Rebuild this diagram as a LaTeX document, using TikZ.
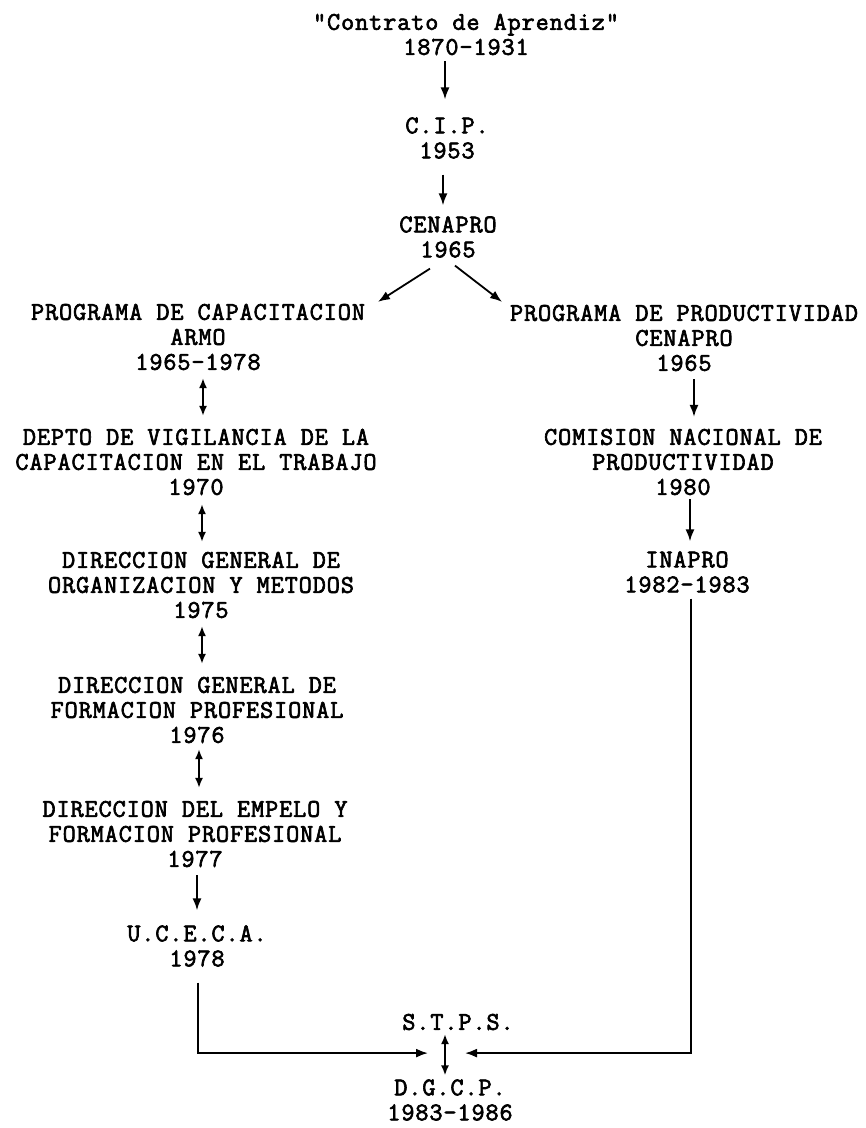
\documentclass[tikz,border=0pt]{standalone}
\usepackage{fontspec}
\newfontfamily\tw[FakeBold=2.5,LetterSpace=3.5]{Latin Modern Mono}
\usetikzlibrary{arrows.meta,calc}
\begin{document}
\begin{tikzpicture}[x=1pt,y=-1pt,
  lbl/.style={align=center,inner sep=0pt,outer sep=0pt,font=\tw\fontsize{25.5}{25}\selectfont},
  conn/.style={line width=1.8pt,-{Latex[length=12pt,width=9pt]}},
  twoway/.style={line width=1.8pt,{Latex[length=10pt,width=8pt]}-{Latex[length=10pt,width=8pt]}}]
\fill[white] (0,0) rectangle (866,1128);
\useasboundingbox (0,0) rectangle (866,1128);

\node[lbl] (title) at (466,34.5) {"Contrato de Aprendiz"\\1870-1931};
\node[lbl] (cip) at (447,138) {C.I.P.\\1953};
\node[lbl] (cenapro) at (448,237) {CENAPRO\\1965};
\node[lbl] (progcap) at (198,337) {PROGRAMA DE CAPACITACION\\ARMO\\1965-1978};
\node[lbl] (progprod) at (684,338) {PROGRAMA DE PRODUCTIVIDAD\\CENAPRO\\1965};
\node[lbl] (depto) at (196,462) {DEPTO DE VIGILANCIA DE LA\\CAPACITACION EN EL TRABAJO\\1970};
\node[lbl] (dgom) at (201,585) {DIRECCION GENERAL DE\\ORGANIZACION Y METODOS\\1975};
\node[lbl] (dgfp) at (197,710) {DIRECCION GENERAL DE\\FORMACION PROFESIONAL\\1976};
\node[lbl] (demp) at (195,834) {DIRECCION DEL EMPELO Y\\FORMACION PROFESIONAL\\1977};
\node[lbl] (uceca) at (197,946) {U.C.E.C.A.\\1978};
\node[lbl] (cnp) at (683,462) {COMISION NACIONAL DE\\PRODUCTIVIDAD\\1980};
\node[lbl] (inapro) at (687,572) {INAPRO\\1982-1983};
\node[lbl] (stps) at (458,1022) {S.T.P.S.};
\node[lbl] (dgcp) at (450,1100) {D.G.C.P.\\1983-1986};

\draw[conn] ($(title.south -| cip.north)+(-2,6)$) -- ($(cip.north)+(-2,-18)$);
\draw[conn] ($(cip.south)+(-4,16)$) -- ($(cip.south |- cenapro.north)+(-4,-11)$);
\draw[conn] ($(cenapro.south)+(-18,11)$) -- ($(progcap.north east)+(13,-2)$);
\draw[conn] ($(cenapro.south)+(7,8)$) -- ($(progprod.north west)+(-8,-3)$);
\draw[twoway] ($(progcap.south)+(5,8)$) -- ($(progcap.south |- depto.north)+(5,-13)$);
\draw[twoway] ($(depto.south)+(6,9)$) -- ($(depto.south |- dgom.north)+(6,-10)$);
\draw[twoway] ($(dgom.south)+(1,8)$) -- ($(dgom.south |- dgfp.north)+(1,-13)$);
\draw[twoway] ($(dgfp.south)+(2,6)$) -- ($(dgfp.south |- demp.north)+(2,-13)$);
\draw[conn] ($(demp.south)+(2,8)$) -- ($(demp.south |- uceca.north)+(2,-15)$);
\draw[conn] ($(progprod.south)+(10,8)$) -- ($(progprod.south |- cnp.north)+(10,-12)$);
\draw[conn] ($(cnp.south)+(7,4)$) -- ($(cnp.south |- inapro.north)+(7,-10)$);
\draw[conn] ($(uceca.south)+(1,16)$) |- ($(stps.south)+(-30,23)$);
\draw[conn] ($(inapro.south)+(4,6)$) |- ($(stps.south)+(7,23)$);
\draw[twoway] ($(stps.south)+(-13,4)$) -- ($(stps.south |- dgcp.north)+(-13,-4)$);
\end{tikzpicture}
\end{document}
